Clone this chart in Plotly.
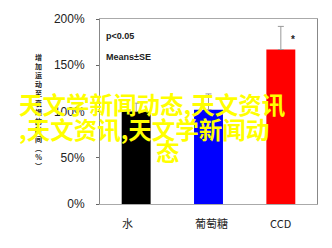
import plotly.graph_objects as go

categories = ["水", "葡萄糖", "CCD"]
means = [100, 102, 167]
se = [9, 17, 25]
bar_colors = ["#000000", "#0000FF", "#FF0000"]
y_ticks = [0, 50, 100, 150, 200]
y_tick_labels = ["0%", "50%", "100%", "150%", "200%"]
y_title = "增加运动至衰竭的时间︵%︶"
wm_line1 = "天文学新闻动态,天文资讯"
wm_line2 = ",天文资讯,天文学新闻动"
wm_line3 = "态"

fig = go.Figure()
fig.add_trace(go.Bar(
    x=categories, y=means,
    marker=dict(color=bar_colors, line=dict(width=0)),
    width=0.4,
    error_y=dict(type="data", array=se, arrayminus=[0, 0, 0], symmetric=False,
                 color="#999999", thickness=1, width=3),
    showlegend=False,
))

fig.update_layout(
    width=332, height=248,
    margin=dict(l=100, r=15, t=13, b=44),
    paper_bgcolor="white", plot_bgcolor="white",
    font=dict(family="Liberation Sans, Arial, sans-serif", color="#222222"),
    bargap=0.6,
)
fig.update_xaxes(
    showticklabels=False, ticks="",
    showline=True, linecolor="#aaaaaa", linewidth=1, mirror=True,
    showgrid=False,
)
fig.update_yaxes(
    range=[0, 200], tickvals=y_ticks, ticktext=y_tick_labels,
    ticks="outside", ticklen=3, tickcolor="#666666",
    ticklabelstandoff=9,
    tickfont=dict(size=12, color="#222222"),
    showline=True, linecolor="#888888", linewidth=1, mirror=True,
    showgrid=False, zeroline=False,
)

anns = []
# x category labels
xshifts = [-9, 3, 0]
for c, xs in zip(categories, xshifts):
    anns.append(dict(x=c, y=0, xref="x", yref="paper", yshift=-19, xshift=xs,
                     text=c, showarrow=False, yanchor="middle",
                     font=dict(size=11, color="#222222",
                               family="Liberation Sans Narrow, Noto Sans CJK SC, sans-serif")))
# y title (vertical stacked)
anns.append(dict(x=-0.285, y=0.5, xref="paper", yref="paper",
                 text="<br>".join(list(y_title)), showarrow=False,
                 font=dict(size=7, color="#222222", family="Noto Sans CJK SC", weight="bold"),
                 xanchor="center", yanchor="middle"))
# stats notes
anns.append(dict(x=0.02, y=0.91, xref="paper", yref="paper", text="<b>p<0.05</b>",
                 showarrow=False, xanchor="left", yanchor="middle",
                 font=dict(size=9, color="#222222")))
anns.append(dict(x=0.02, y=0.796, xref="paper", yref="paper", text="<b>Means±SE</b>",
                 showarrow=False, xanchor="left", yanchor="middle",
                 font=dict(size=9, color="#222222")))
# significance star
anns.append(dict(x="CCD", y=0.887, xref="x", yref="paper", text="<b>*</b>",
                 showarrow=False, xshift=12, yanchor="middle",
                 font=dict(size=10, color="#222222")))
# watermark
wm_font = dict(size=23.5, color="#FFFF00", family="Noto Sans CJK SC", weight="bold")
anns.append(dict(x=-0.382, y=0.539, xref="paper", yref="paper", text=wm_line1,
                 showarrow=False, xanchor="left", yanchor="middle", font=wm_font))
anns.append(dict(x=-0.382, y=0.408, xref="paper", yref="paper", text=wm_line2,
                 showarrow=False, xanchor="left", yanchor="middle", font=wm_font))
anns.append(dict(x=0.313, y=0.288, xref="paper", yref="paper", text=wm_line3,
                 showarrow=False, xanchor="center", yanchor="middle", font=wm_font))
fig.update_layout(annotations=anns)

fig.write_html("out.html")
